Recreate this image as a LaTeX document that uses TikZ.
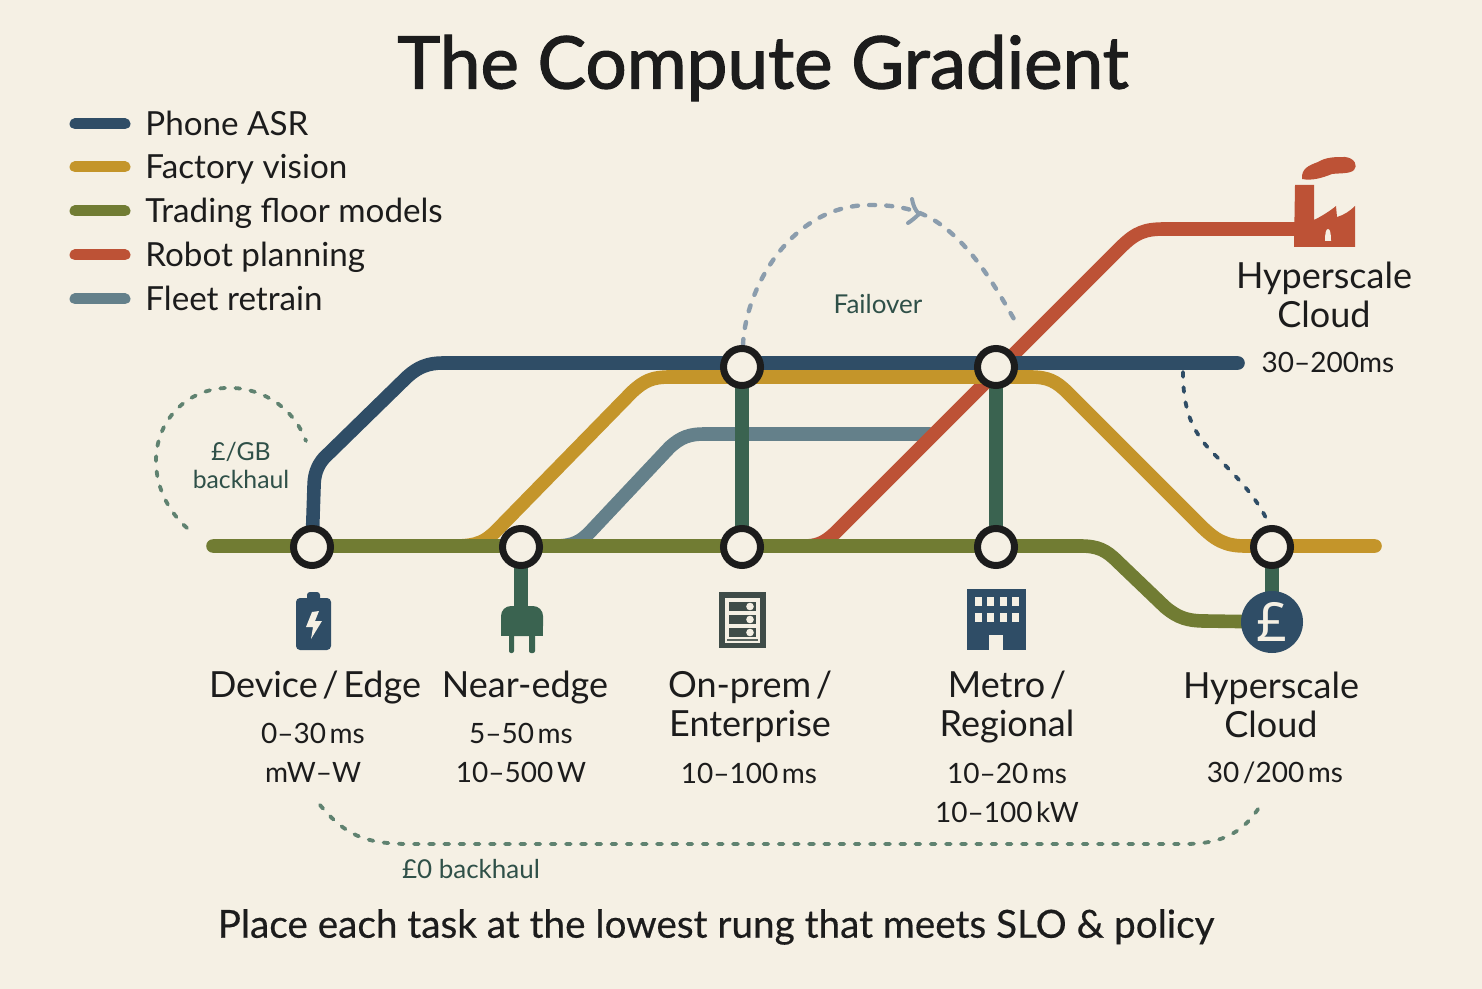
\documentclass[tikz,border=0pt]{standalone}
\usepackage{fontspec}
\setmainfont{Lato}
\newfontfamily\poundfont{Noto Sans}
\newfontfamily\tightfont[WordSpace=0.5]{Lato}
\usetikzlibrary{arrows.meta}
\definecolor{bg}{HTML}{F5F0E4}
\definecolor{cblue}{HTML}{2F4D66}
\definecolor{cgold}{HTML}{C4952A}
\definecolor{colive}{HTML}{717C33}
\definecolor{cred}{HTML}{BD5236}
\definecolor{cteal}{HTML}{64808A}
\definecolor{cgreen}{HTML}{3A6350}
\definecolor{cink}{HTML}{1C1C1C}
\definecolor{cdash}{HTML}{5F8270}
\definecolor{cfail}{HTML}{8B9DAD}
\definecolor{cserver}{HTML}{3F4C48}
\definecolor{cnote}{HTML}{2F5048}
\tikzset{
 route/.style={line width=6.8pt,line cap=round,line join=round},
 swatch/.style={line width=5.5pt,line cap=round},
 ring/.style={circle,draw=cink,fill=bg,line width=3.5pt,minimum size=18.5pt,inner sep=0pt},
 legendtext/.style={anchor=base west,font=\fontsize{16.6}{20}\selectfont,text=cink,inner sep=0pt},
 tier/.style={align=center,font=\tightfont\fontsize{18}{19.5}\selectfont,text=cink,inner sep=0pt},
 metric/.style={align=center,font=\tightfont\fontsize{14}{19.8}\selectfont,text=cink,inner sep=0pt},
 note/.style={align=center,font=\fontsize{13}{14}\selectfont,text=cnote,inner sep=0pt},
 dots/.style={line width=1.9pt,line cap=round,dash pattern=on 2.4pt off 5.2pt},
 faildots/.style={line width=2.2pt,line cap=round,dash pattern=on 3pt off 5.6pt},
}
\begin{document}
\begin{tikzpicture}[x=0.5pt,y=-0.5pt]
\useasboundingbox (0,0) rectangle (1482,989);
\fill[bg] (0,0) rectangle (1482,989);

% stations
\coordinate (s1) at (312,547);
\coordinate (s2) at (521,547);
\coordinate (s3) at (742,547);
\coordinate (s4) at (996,547);
\coordinate (s5) at (1272,547);
\coordinate (t3) at (742,367);
\coordinate (t4) at (996,367);
\coordinate (oliveStart) at (213,546);
\coordinate (blueEnd) at (1238,363);
\coordinate (goldEnd) at (1375,546);
\coordinate (tealEnd) at (930,434);
\coordinate (redEnd) at (1300,229);
\coordinate (pound) at (1272,622);

% title & legend
\node[inner sep=0pt,font=\fontsize{36.4}{40}\selectfont\addfontfeature{FakeBold=1.6},text=cink] (title) at (763,68) {The Compute Gradient};
\foreach \yy/\cc/\tt/\nn in {124/cblue/Phone ASR/a,167/cgold/Factory vision/b,211/colive/Trading floor models/c,255/cred/Robot planning/d,299/cteal/Fleet retrain/e}{
  \coordinate (sw\nn) at (75,\yy);
  \coordinate (se\nn) at (125,\yy);
  \draw[swatch,draw=\cc] (sw\nn) -- (se\nn);
  \node[legendtext] (lg\nn) at (145,\yy+12) {\tt};
}

% routes
\draw[route,cteal] (555,546) .. controls (574,546) and (581,541) .. (590,532) -- (670,447) .. controls (681,437) and (690,434) .. (704,434) -- (tealEnd);
\draw[route,cgreen] (t3) -- (s3);
\draw[route,cgreen] (t4) -- (s4);
\draw[route,cgreen] (s2) -- (521,612);
\draw[route,cgreen] (s5) -- (pound);
\draw[route,cred] (805,546) .. controls (820,546) and (828,540) .. (838,530) -- (1120,248) .. controls (1136,232) and (1145,229) .. (1165,229) -- (redEnd);
\draw[route,cblue] (s1) -- (314,487) .. controls (314,475) and (317,466) .. (324,458) -- (407,377) .. controls (418,367) and (428,363) .. (443,363) -- (blueEnd);
\draw[route,cgold] (455,546) .. controls (478,546) and (486,541) .. (497,530) -- (632,392) .. controls (645,380) and (653,377) .. (670,377) -- (1030,377) .. controls (1048,377) and (1056,381) .. (1068,393) -- (1200,525) .. controls (1215,540) and (1225,546) .. (1245,546) -- (goldEnd);
\draw[route,colive] (oliveStart) -- (1080,546) .. controls (1098,546) and (1106,550) .. (1118,562) -- (1165,607) .. controls (1178,618) and (1188,621) .. (1205,621) -- (pound);

% dashed arcs
\draw[dots,cdash] (187,528) .. controls (150,495) and (145,440) .. (178,408) .. controls (215,372) and (285,385) .. (306,441);
\draw[dots,cblue] (1183,372) .. controls (1183,410) and (1192,430) .. (1210,450) .. controls (1235,475) and (1255,495) .. (1267,520);
\draw[faildots,cfail] (743,345) .. controls (745,290) and (790,205) .. (870,205) .. controls (900,205) and (925,210) .. (950,232) .. controls (980,258) and (1000,295) .. (1018,326);
\draw[cfail,line width=2pt,line cap=round] (912,199) .. controls (913,205) and (915,210) .. (919,214) .. controls (915,218) and (911,221) .. (908,223);
\draw[dots,cdash] (320,805) .. controls (345,835) and (365,844) .. (410,844) -- (1185,844) .. controls (1225,844) and (1245,830) .. (1260,806);

% rings
\foreach \s in {s1,s2,s3,s4,s5,t3,t4}{\node[ring] (r\s) at (\s) {};}

% battery
\fill[cblue,rounded corners=2pt] (296,598) rectangle (331,650);
\fill[cblue,rounded corners=1.5pt] (307,592) rectangle (320,602);
\fill[bg] (312,612) -- (319,611) -- (315,621) -- (322,621) -- (311,639) -- (313,627) -- (306,627) -- cycle;

% plug
\fill[cgreen,rounded corners=5pt] (501,636) -- (501,606) -- (543,606) -- (543,636) -- cycle;
\fill[cgreen] (501,625) rectangle (543,636);
\fill[cgreen,rounded corners=1pt] (509,634) rectangle (514,653);
\fill[cgreen,rounded corners=1pt] (529,634) rectangle (535,653);

% server
\fill[cserver] (719,592) rectangle (766,648);
\fill[bg] (725,598) rectangle (760,643);
\fill[cserver!85!bg] (727,600) rectangle (758,641);
\foreach \yy in {602,615,628}{
  \fill[bg] (727,\yy-2) rectangle (758,\yy+11);
  \fill[cserver] (729,\yy) rectangle (756,\yy+9);
  \fill[bg] (750,\yy+4.5) circle (1.9pt);
}

% building
\fill[cblue] (967,589) rectangle (1026,650);
\foreach \xx in {978,990,1003,1015}{
  \fill[bg] (\xx-3.5,597) rectangle (\xx+3.5,606);
  \fill[bg] (\xx-3.5,613) rectangle (\xx+3.5,622);
}
\fill[bg] (989,635) rectangle (1003,650);

% pound disc
\node[circle,fill=cblue,minimum size=31pt,inner sep=0pt,font=\poundfont\fontsize{27}{27}\selectfont\bfseries,text=bg] (poundnode) at (pound) {£};

% factory
\fill[cred] (1294,247) -- (1295,185) -- (1314,185) -- (1314,220) .. controls (1322,216) and (1330,211) .. (1336,206) -- (1337,217) .. controls (1344,215) and (1350,211) .. (1355,206) -- (1355,247) -- cycle;
\fill[bg] (1325,241) .. controls (1325,233) and (1326,229) .. (1328,229) .. controls (1330,229) and (1331,233) .. (1331,241) -- cycle;
\fill[cred] (1302,179) .. controls (1301,168) and (1310,165) .. (1318,162) .. controls (1326,157) and (1335,157) .. (1345,157) .. controls (1355,158) and (1358,166) .. (1354,170) .. controls (1350,174) and (1340,173) .. (1332,174) .. controls (1322,178) and (1312,181) .. (1302,179) -- cycle;

% labels
\node[tier] (topcloud) at (1324,295) {Hyperscale\\Cloud};
\node[metric] (toplat) at (1328,362) {30–200ms};
\node[tier] (l1) at (315,688) {Device / Edge};
\node[metric] (m1) at (313,753) {0–30 ms\\mW–W};
\node[tier] (l2) at (525,688) {Near-edge};
\node[metric] (m2) at (521,753) {5–50 ms\\10–500 W};
\node[tier] (l3) at (750,707) {On-prem /\\Enterprise};
\node[metric] (m3) at (749,773) {10–100 ms};
\node[tier] (l4) at (1007,707) {Metro /\\Regional};
\node[metric] (m4) at (1007,793) {10–20 ms\\10–100 kW};
\node[tier] (l5) at (1271,705) {Hyperscale\\Cloud};
\node[metric] (m5) at (1275,773) {30 /200 ms};
\node[note,font=\fontsize{12.4}{14}\selectfont] (n1) at (241,465) {£/GB\\backhaul};
\node[note] (n2) at (878,304) {Failover};
\node[note] (n3) at (471,869) {£0 backhaul};
\node[inner sep=0pt,font=\fontsize{19.35}{22}\selectfont\addfontfeature{FakeBold=0.4},text=cink] (foot) at (716,927) {Place each task at the lowest rung that meets SLO \& policy};
\end{tikzpicture}
\end{document}
